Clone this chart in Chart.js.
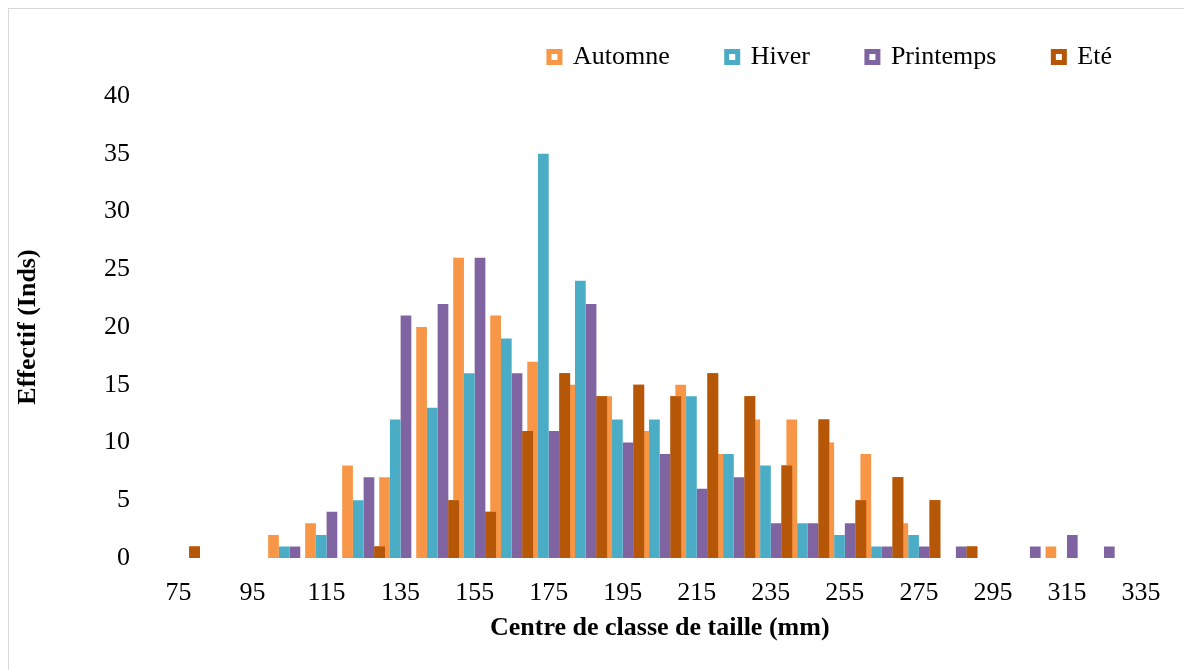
<!DOCTYPE html>
<html>
<head>
<meta charset="utf-8">
<title>Effectif par classe de taille</title>
<script src="https://cdn.jsdelivr.net/npm/chart.js@4.4.1/dist/chart.umd.min.js"></script>
<style>
	html, body { margin: 0; padding: 0; background: #fff; overflow: hidden; }
	#frame { position: absolute; left: 8px; top: 8px; width: 1200px; height: 700px; border: 1px solid #d9d9d9; }
	#chart { position: absolute; left: 0; top: 0; }
</style>
</head>
<body>
<div id="frame"></div>
<canvas id="chart" width="1184" height="670"></canvas>
<script>
'use strict';

// Class centres (mm), one group of bars every 10 mm
var categories = [75, 85, 95, 105, 115, 125, 135, 145, 155, 165, 175, 185, 195, 205,
	215, 225, 235, 245, 255, 265, 275, 285, 295, 305, 315, 325, 335];

// Only every other centre gets a label on the axis
var xTickLabels = [75, 95, 115, 135, 155, 175, 195, 215, 235, 255, 275, 295, 315, 335];

// Effectif (Inds) per season
var automne = [0, 0, 0, 2, 3, 8, 7, 20, 26, 21, 17, 15, 14, 11, 15, 9, 12, 12, 10, 9, 3, 0, 0, 0, 1, 0, 0];
var hiver = [0, 0, 0, 1, 2, 5, 12, 13, 16, 19, 35, 24, 12, 12, 14, 9, 8, 3, 2, 1, 2, 0, 0, 0, 0, 0, 0];
var printemps = [0, 0, 0, 1, 4, 7, 21, 22, 26, 16, 11, 22, 10, 9, 6, 7, 3, 3, 3, 1, 1, 1, 0, 1, 2, 1, 0];
var ete = [1, 0, 0, 0, 0, 1, 0, 5, 4, 11, 16, 14, 15, 14, 16, 14, 8, 12, 5, 7, 5, 1, 0, 0, 0, 0, 0];

var seriesNames = ['Automne', 'Hiver', 'Printemps', 'Eté'];
var seriesColors = ['#F79646', '#4BACC6', '#8064A2', '#B65708'];

var serif = "'Liberation Serif', 'Times New Roman', serif";

Chart.defaults.font.family = serif;
Chart.defaults.color = '#000';

// Excel draws the series in order, so the summer bar sits over the
// autumn bar of the next class where they overlap.
var summerOnTop = {
	id: 'summerOnTop',
	afterDatasetsDraw: function (chart) {
		var meta = chart.getDatasetMeta(3);
		if (chart.isDatasetVisible(3)) {
			meta.controller.draw();
		}
	}
};

// Leave some room between the legend and the plot
var legendGap = {
	id: 'legendGap',
	afterInit: function (chart) {
		var legend = chart.legend,
			fit = legend.fit;
		legend.fit = function () {
			fit.call(this);
			this.height += 16;
		};
	}
};

function makeDataset(i, values) {
	return {
		label: seriesNames[i],
		data: values,
		backgroundColor: seriesColors[i],
		borderWidth: 0,
		categoryPercentage: 1.157,
		barPercentage: 1
	};
}

new Chart(document.getElementById('chart'), {
	type: 'bar',
	data: {
		labels: categories,
		datasets: [
			makeDataset(0, automne),
			makeDataset(1, hiver),
			makeDataset(2, printemps),
			makeDataset(3, ete)
		]
	},
	plugins: [summerOnTop, legendGap],
	options: {
		responsive: false,
		animation: false,
		layout: {
			padding: { top: -13, right: 15, bottom: 0, left: 0 }
		},
		plugins: {
			tooltip: { enabled: false },
			legend: {
				position: 'top',
				align: 'end',
				labels: {
					padding: 57,
					boxWidth: 11,
					boxHeight: 11,
					font: { size: 26, family: serif },
					color: '#000',
					generateLabels: function (chart) {
						return chart.data.datasets.map(function (ds, i) {
							return {
								text: ds.label,
								fillStyle: '#ffffff',
								strokeStyle: ds.backgroundColor,
								lineWidth: 5,
								fontColor: '#000',
								hidden: !chart.isDatasetVisible(i),
								datasetIndex: i
							};
						});
					}
				}
			}
		},
		scales: {
			x: {
				grid: { display: false },
				border: { display: false },
				ticks: {
					autoSkip: false,
					maxRotation: 0,
					padding: 12,
					font: { size: 26 },
					callback: function (value, index) {
						var c = categories[index];
						return xTickLabels.indexOf(c) !== -1 ? String(c) : '';
					}
				},
				title: {
					display: true,
					text: 'Centre de classe de taille (mm)',
					font: { size: 26, weight: 'bold' },
					padding: { top: 0, bottom: 26 }
				},
				afterFit: function (scale) {
					scale.height = 112;
					scale.paddingRight = 24.5;
				}
			},
			y: {
				min: 0,
				max: 40,
				grid: { display: false },
				border: { display: false },
				ticks: {
					stepSize: 5,
					padding: 22,
					font: { size: 26 }
				},
				title: {
					display: true,
					text: 'Effectif (Inds)',
					font: { size: 26, weight: 'bold' },
					padding: { top: 13, bottom: 0 }
				},
				afterFit: function (scale) {
					scale.width = 160;
				}
			}
		}
	}
});
</script>
</body>
</html>
